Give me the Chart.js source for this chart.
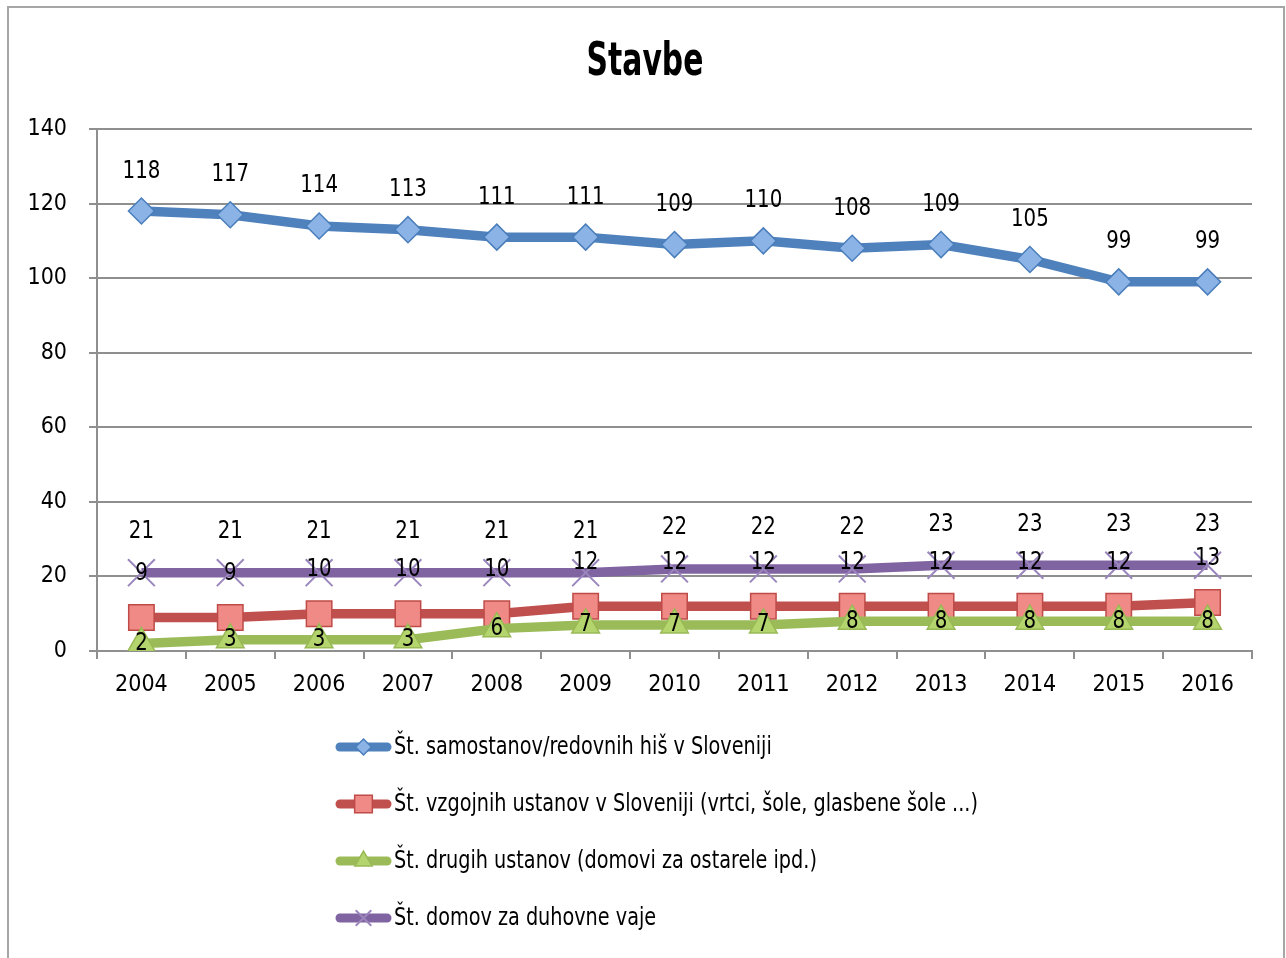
<!DOCTYPE html>
<html>
<head>
<meta charset="utf-8">
<title>Stavbe</title>
<script src="https://cdn.jsdelivr.net/npm/chart.js@4.4.1/dist/chart.umd.min.js"></script>
<style>
    html, body { margin: 0; padding: 0; background: #fff; }
    #wrap { width: 1286px; height: 958px; }
</style>
</head>
<body>
<div id="wrap"><canvas id="stavbeChart" width="1286" height="958"></canvas></div>
<script>
// Chart data
const years = ['2004', '2005', '2006', '2007', '2008', '2009', '2010', '2011', '2012', '2013', '2014', '2015', '2016'];
const samostani = [118, 117, 114, 113, 111, 111, 109, 110, 108, 109, 105, 99, 99];
const vzgojneUstanove = [9, 9, 10, 10, 10, 12, 12, 12, 12, 12, 12, 12, 13];
const drugeUstanove = [2, 3, 3, 3, 6, 7, 7, 7, 8, 8, 8, 8, 8];
const domoviDuhovneVaje = [21, 21, 21, 21, 21, 21, 22, 22, 22, 23, 23, 23, 23];
const yTicks = [0, 20, 40, 60, 80, 100, 120, 140];

const chartTitle = 'Stavbe';
const seriesLabels = [
    'Št. samostanov/redovnih hiš v Sloveniji',
    'Št. vzgojnih ustanov v Sloveniji (vrtci, šole, glasbene šole ...)',
    'Št. drugih ustanov (domovi za ostarele ipd.)',
    'Št. domov za duhovne vaje'
];

const FONT = "'DejaVu Sans Condensed', 'DejaVu Sans', sans-serif";
const GRID = '#8f8f8f';

// Draw text squeezed horizontally (the original uses a narrow font)
function narrowText(ctx, text, x, y, squeeze) {
    ctx.save();
    ctx.translate(x, y);
    ctx.scale(squeeze, 1);
    ctx.fillText(text, 0, 0);
    ctx.restore();
}

// Frame around the whole chart + title
const framePlugin = {
    id: 'frame',
    beforeDraw(chart) {
        const ctx = chart.ctx;
        ctx.save();
        ctx.fillStyle = '#fff';
        ctx.fillRect(0, 0, chart.width, chart.height);
        ctx.strokeStyle = '#a6a6a6';
        ctx.lineWidth = 2;
        ctx.strokeRect(8, 7, 1276, 980);

        ctx.fillStyle = '#000';
        ctx.font = 'bold 46px ' + FONT;
        ctx.textAlign = 'center';
        ctx.textBaseline = 'middle';
        narrowText(ctx, chartTitle, 645, 63, 0.72);
        ctx.restore();
    }
};

// Value labels next to each point
const valueLabelPlugin = {
    id: 'valueLabels',
    afterDatasetsDraw(chart) {
        const ctx = chart.ctx;
        ctx.save();
        ctx.font = '25px ' + FONT;
        ctx.fillStyle = '#000';
        ctx.textAlign = 'center';
        ctx.textBaseline = 'middle';
        chart.data.datasets.forEach((ds, i) => {
            const meta = chart.getDatasetMeta(i);
            meta.data.forEach((pt, j) => {
                narrowText(ctx, String(ds.data[j]), pt.x, pt.y + ds.labelOffset, 0.88);
            });
        });
        ctx.restore();
    }
};

// Vertical legend under the plot
const stackedLegendPlugin = {
    id: 'stackedLegend',
    afterDraw(chart) {
        const ctx = chart.ctx;
        const x0 = 335, x1 = 392, top = 747, step = 57;
        ctx.save();
        chart.data.datasets.forEach((ds, i) => {
            const y = top + i * step;
            ctx.strokeStyle = ds.borderColor;
            ctx.lineWidth = 9;
            ctx.lineCap = 'round';
            ctx.beginPath();
            ctx.moveTo(x0 + 5, y);
            ctx.lineTo(x1 - 5, y);
            ctx.stroke();

            ctx.fillStyle = ds.pointBackgroundColor;
            ctx.strokeStyle = ds.pointBorderColor;
            ctx.lineWidth = ds.pointBorderWidth;
            ctx.lineCap = 'butt';
            Chart.helpers.drawPoint(ctx, {
                pointStyle: ds.pointStyle,
                radius: ds.legendRadius,
                borderWidth: ds.pointBorderWidth
            }, (x0 + x1) / 2, y);

            ctx.fillStyle = '#000';
            ctx.font = '25px ' + FONT;
            ctx.textAlign = 'left';
            ctx.textBaseline = 'middle';
            narrowText(ctx, ds.label, x1 + 2, y, 0.855);
        });
        ctx.restore();
    }
};

function makeSeries(label, data, color, pointStyle, radius, fill, border, labelOffset, order, legendRadius) {
    return {
        label: label,
        data: data,
        borderColor: color,
        backgroundColor: color,
        borderWidth: 9.5,
        pointStyle: pointStyle,
        pointRadius: radius,
        pointHoverRadius: radius,
        pointBackgroundColor: fill,
        pointBorderColor: border,
        pointBorderWidth: pointStyle === 'crossRot' ? 2 : 1.5,
        labelOffset: labelOffset,
        legendRadius: legendRadius,
        order: order,
        tension: 0
    };
}

function initChart() {
    const ctx = document.getElementById('stavbeChart').getContext('2d');
    new Chart(ctx, {
        type: 'line',
        data: {
            labels: years,
            datasets: [
                makeSeries(seriesLabels[0], samostani, '#4f81bd', 'rectRot', 13, '#8cb3e6', '#4a7ebb', -40, 4, 8),
                makeSeries(seriesLabels[1], vzgojneUstanove, '#c0504d', 'rect', 18, '#f08a86', '#be4b48', -44, 3, 12.5),
                makeSeries(seriesLabels[2], drugeUstanove, '#9bbb59', 'triangle', 16, '#b4d46d', '#98b954', 0, 2, 10),
                makeSeries(seriesLabels[3], domoviDuhovneVaje, '#8064a2', 'crossRot', 19, '#8064a2', '#9a86bd', -41, 1, 11)
            ]
        },
        options: {
            responsive: false,
            animation: false,
            devicePixelRatio: 1,
            layout: {
                padding: { left: 0, right: 34, top: 129, bottom: 250 }
            },
            plugins: {
                legend: { display: false },
                tooltip: { enabled: false },
                title: { display: false }
            },
            scales: {
                x: {
                    offset: true,
                    afterFit(scale) { scale.height = 57; },
                    grid: {
                        offset: true,
                        drawOnChartArea: false,
                        drawTicks: true,
                        tickLength: 8,
                        color: GRID,
                        lineWidth: 2
                    },
                    border: { color: GRID, width: 2 },
                    ticks: {
                        color: '#000',
                        font: { family: FONT, size: 23 },
                        padding: 12,
                        maxRotation: 0
                    }
                },
                y: {
                    min: 0,
                    max: 140,
                    afterFit(scale) { scale.width = 97; },
                    afterBuildTicks(scale) {
                        scale.ticks = yTicks.map(v => ({ value: v }));
                    },
                    grid: {
                        color: GRID,
                        lineWidth: 2,
                        tickLength: 8
                    },
                    border: { color: GRID, width: 2 },
                    ticks: {
                        color: '#000',
                        font: { family: FONT, size: 23 },
                        padding: 22
                    }
                }
            }
        },
        plugins: [framePlugin, valueLabelPlugin, stackedLegendPlugin]
    });
}

document.addEventListener('DOMContentLoaded', initChart);
</script>
</body>
</html>
